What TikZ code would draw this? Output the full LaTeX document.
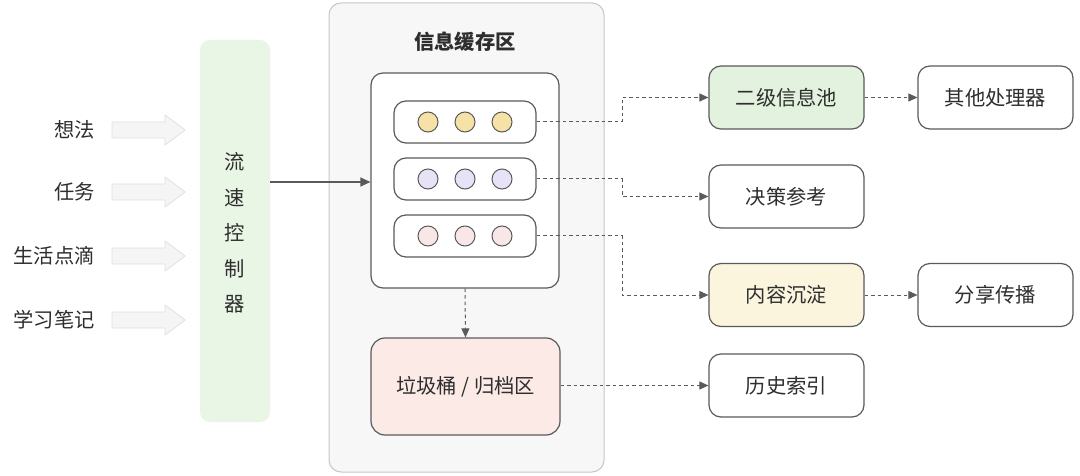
\documentclass[tikz,border=0pt]{standalone}
\usepackage{fontspec}
\setmainfont{Noto Sans CJK SC}
\usetikzlibrary{arrows.meta}
\definecolor{txt}{HTML}{2E2E2E}
\definecolor{edge}{HTML}{5A5A5A}
\definecolor{ctrlgreen}{HTML}{E9F5E5}
\definecolor{poolgreen}{HTML}{E3F2DE}
\definecolor{sinkyellow}{HTML}{FBF5DE}
\definecolor{trashpink}{HTML}{FCEAE7}
\definecolor{dotyellow}{HTML}{F6E2A6}
\definecolor{dotpurple}{HTML}{E7E2F6}
\definecolor{dotpink}{HTML}{F8E7E6}
\tikzset{
  every node/.style={text=txt, font=\fontsize{20.3}{23}\selectfont},
  rbox/.style={draw=edge, line width=1.2pt, rounded corners=12pt, fill=white, minimum width=155pt, minimum height=63pt, inner sep=0pt},
  rowbox/.style={draw=edge, line width=1.2pt, rounded corners=12pt, fill=white, minimum width=142pt, minimum height=42pt, inner sep=0pt},
  dot/.style={circle, draw=edge, line width=1pt, minimum size=20pt, inner sep=0pt},
  dashconn/.style={draw=edge, line width=1pt, dash pattern=on 3.5pt off 3pt, -{Triangle[length=9pt,width=8pt]}},
  solidconn/.style={draw=edge, line width=1.2pt, -{Triangle[length=10pt,width=9pt]}},
  inlabel/.style={anchor=east, inner sep=0pt},
  blockarrow/.style={fill=black!4, draw=black!12, line width=0.8pt},
}
\begin{document}
\begin{tikzpicture}[x=1pt,y=-1pt]
\useasboundingbox (0,0) rectangle (1080,476);
\fill[white] (0,0) rectangle (1080,476);

% outer cache container
\node[draw=black!22, line width=1pt, fill=black!3, rounded corners=12pt, minimum width=275pt, minimum height=469pt] (cache) at (466.5,237.5) {};
\node[font=\fontsize{20.3}{23}\selectfont\bfseries] (cachetitle) at (465,42) {信息缓存区};

% inputs
\node[inlabel] (in1) at (95,130) {想法};
\node[inlabel] (in2) at (95,192) {任务};
\node[inlabel] (in3) at (95,256) {生活点滴};
\node[inlabel] (in4) at (95,320) {学习笔记};
\foreach \y in {130,192,256,320}{
  \draw[blockarrow] (112,\y-8) -- (165,\y-8) -- (165,\y-15) -- (185,\y) -- (165,\y+15) -- (165,\y+8) -- (112,\y+8) -- cycle;
}

% flow controller
\node[fill=ctrlgreen, rounded corners=10pt, minimum width=70pt, minimum height=382pt] (ctrl) at (235,231) {};
\node[align=center, font=\fontsize{20.3}{35.5}\selectfont] (ctrltext) at (235,233) {流\\速\\控\\制\\器};

% inner box
\node[draw=edge, line width=1.2pt, rounded corners=12pt, fill=white, minimum width=188pt, minimum height=215pt] (inner) at (465,180.5) {};
\node[rowbox] (row1) at (465,122) {};
\node[rowbox] (row2) at (465,179) {};
\node[rowbox] (row3) at (465,236) {};
\foreach \x/\n in {428/a,465/b,502/c}{
  \node[dot, fill=dotyellow] (d1\n) at (\x,122) {};
  \node[dot, fill=dotpurple] (d2\n) at (\x,179) {};
  \node[dot, fill=dotpink] (d3\n) at (\x,236) {};
}

% trash
\node[draw=edge, line width=1.2pt, rounded corners=14pt, fill=trashpink, minimum width=189pt, minimum height=97pt] (trash) at (465.5,386.5) {垃圾桶 / 归档区};

% right column
\node[rbox, fill=poolgreen] (pool) at (786.5,97.5) {二级信息池};
\node[rbox] (decide) at (786.5,196.5) {决策参考};
\node[rbox, fill=sinkyellow] (sink) at (786.5,295) {内容沉淀};
\node[rbox] (history) at (786.5,385.5) {历史索引};
\node[rbox] (other) at (995.5,97.5) {其他处理器};
\node[rbox] (share) at (995.5,295) {分享传播};

% connectors
\draw[solidconn] (ctrl.east |- 0,182) -- (inner.west |- 0,182);
\draw[dashconn] (inner.south) -- (trash.north);
\draw[dashconn] (row1.east) -| (622,97.5) -- (pool.west);
\draw[dashconn] (row2.east) -| (622,196.5) -- (decide.west);
\draw[dashconn] (row3.east) -| (622,295) -- (sink.west);
\draw[dashconn] (trash.east |- history.west) -- (history.west);
\draw[dashconn] (pool.east) -- (other.west);
\draw[dashconn] (sink.east) -- (share.west);
\end{tikzpicture}
\end{document}
